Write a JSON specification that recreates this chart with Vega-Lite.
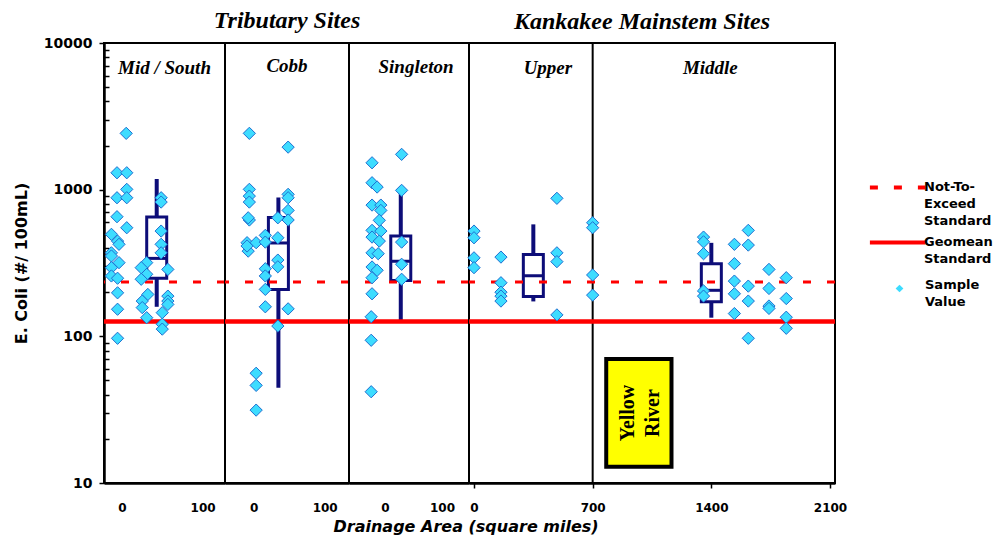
{
  "$schema": "https://vega.github.io/schema/vega-lite/v6.json",
  "background": "white",
  "padding": {"left": 12, "top": 8, "right": 5, "bottom": 5},
  "spacing": 0,
  "bounds": "flush",
  "datasets": {
    "points": [
      {"site": "Mid/South", "x": 5.4, "value": 2421},
      {"site": "Mid/South", "x": -6.0, "value": 1304},
      {"site": "Mid/South", "x": -6.0, "value": 881},
      {"site": "Mid/South", "x": -6.0, "value": 654},
      {"site": "Mid/South", "x": 6.1, "value": 1304},
      {"site": "Mid/South", "x": 6.1, "value": 1005},
      {"site": "Mid/South", "x": 6.1, "value": 881},
      {"site": "Mid/South", "x": 6.1, "value": 550},
      {"site": "Mid/South", "x": -12.9, "value": 496},
      {"site": "Mid/South", "x": -12.9, "value": 371},
      {"site": "Mid/South", "x": -12.9, "value": 353},
      {"site": "Mid/South", "x": -12.9, "value": 294},
      {"site": "Mid/South", "x": -12.9, "value": 258},
      {"site": "Mid/South", "x": -5.3, "value": 446},
      {"site": "Mid/South", "x": -5.3, "value": 249},
      {"site": "Mid/South", "x": -5.3, "value": 198},
      {"site": "Mid/South", "x": -5.3, "value": 153},
      {"site": "Mid/South", "x": -5.3, "value": 97},
      {"site": "Mid/South", "x": -3.5, "value": 424},
      {"site": "Mid/South", "x": -3.5, "value": 318},
      {"site": "Mid/South", "x": 30.8, "value": 318},
      {"site": "Mid/South", "x": 30.8, "value": 265},
      {"site": "Mid/South", "x": 30.8, "value": 134},
      {"site": "Mid/South", "x": 24.0, "value": 294},
      {"site": "Mid/South", "x": 24.0, "value": 245},
      {"site": "Mid/South", "x": 32.2, "value": 193},
      {"site": "Mid/South", "x": 25.3, "value": 174},
      {"site": "Mid/South", "x": 25.3, "value": 157},
      {"site": "Mid/South", "x": 48.7, "value": 881},
      {"site": "Mid/South", "x": 48.7, "value": 823},
      {"site": "Mid/South", "x": 48.7, "value": 522},
      {"site": "Mid/South", "x": 48.7, "value": 424},
      {"site": "Mid/South", "x": 48.7, "value": 371},
      {"site": "Mid/South", "x": 57.0, "value": 286},
      {"site": "Mid/South", "x": 57.0, "value": 188},
      {"site": "Mid/South", "x": 57.0, "value": 174},
      {"site": "Mid/South", "x": 57.0, "value": 165},
      {"site": "Mid/South", "x": 50.1, "value": 145},
      {"site": "Mid/South", "x": 50.1, "value": 121},
      {"site": "Mid/South", "x": 50.1, "value": 112},
      {"site": "Cobb", "x": -6.0, "value": 2421},
      {"site": "Cobb", "x": -6.0, "value": 1005},
      {"site": "Cobb", "x": -6.0, "value": 904},
      {"site": "Cobb", "x": -6.0, "value": 823},
      {"site": "Cobb", "x": -6.0, "value": 621},
      {"site": "Cobb", "x": -7.6, "value": 643},
      {"site": "Cobb", "x": -7.6, "value": 381},
      {"site": "Cobb", "x": -9.2, "value": 435},
      {"site": "Cobb", "x": -9.2, "value": 413},
      {"site": "Cobb", "x": 3.6, "value": 435},
      {"site": "Cobb", "x": 3.6, "value": 56},
      {"site": "Cobb", "x": 3.6, "value": 46.3},
      {"site": "Cobb", "x": 3.6, "value": 31.4},
      {"site": "Cobb", "x": 16.5, "value": 488},
      {"site": "Cobb", "x": 16.5, "value": 439},
      {"site": "Cobb", "x": 16.5, "value": 289},
      {"site": "Cobb", "x": 16.5, "value": 258},
      {"site": "Cobb", "x": 16.5, "value": 209},
      {"site": "Cobb", "x": 16.5, "value": 159},
      {"site": "Cobb", "x": 34.1, "value": 643},
      {"site": "Cobb", "x": 34.1, "value": 470},
      {"site": "Cobb", "x": 34.1, "value": 331},
      {"site": "Cobb", "x": 34.1, "value": 298},
      {"site": "Cobb", "x": 34.1, "value": 117.5},
      {"site": "Cobb", "x": 48.6, "value": 1950},
      {"site": "Cobb", "x": 48.6, "value": 929},
      {"site": "Cobb", "x": 48.6, "value": 881},
      {"site": "Cobb", "x": 48.6, "value": 722},
      {"site": "Cobb", "x": 48.6, "value": 621},
      {"site": "Cobb", "x": 48.6, "value": 154},
      {"site": "Singleton", "x": -22.5, "value": 1525},
      {"site": "Singleton", "x": -22.5, "value": 1115},
      {"site": "Singleton", "x": -22.5, "value": 785},
      {"site": "Singleton", "x": -22.5, "value": 528},
      {"site": "Singleton", "x": -22.5, "value": 475},
      {"site": "Singleton", "x": -22.5, "value": 371},
      {"site": "Singleton", "x": -22.5, "value": 297},
      {"site": "Singleton", "x": -22.5, "value": 251},
      {"site": "Singleton", "x": -22.5, "value": 195},
      {"site": "Singleton", "x": -13.6, "value": 1042},
      {"site": "Singleton", "x": -13.6, "value": 282},
      {"site": "Singleton", "x": -7.1, "value": 785},
      {"site": "Singleton", "x": -7.1, "value": 722},
      {"site": "Singleton", "x": -7.1, "value": 522},
      {"site": "Singleton", "x": -9.8, "value": 618},
      {"site": "Singleton", "x": -9.8, "value": 446},
      {"site": "Singleton", "x": -11.7, "value": 366},
      {"site": "Singleton", "x": -24.0, "value": 136},
      {"site": "Singleton", "x": -24.0, "value": 94},
      {"site": "Singleton", "x": -24.0, "value": 41.9},
      {"site": "Singleton", "x": 29.3, "value": 1741},
      {"site": "Singleton", "x": 29.3, "value": 989},
      {"site": "Singleton", "x": 29.3, "value": 439},
      {"site": "Singleton", "x": 29.3, "value": 310},
      {"site": "Singleton", "x": 29.3, "value": 245},
      {"site": "Upper", "x": 0, "value": 522},
      {"site": "Upper", "x": 0, "value": 470},
      {"site": "Upper", "x": 0, "value": 343},
      {"site": "Upper", "x": 0, "value": 294},
      {"site": "Upper", "x": 159, "value": 347},
      {"site": "Upper", "x": 159, "value": 232},
      {"site": "Upper", "x": 159, "value": 200},
      {"site": "Upper", "x": 159, "value": 188},
      {"site": "Upper", "x": 159, "value": 174},
      {"site": "Upper", "x": 489, "value": 873},
      {"site": "Upper", "x": 489, "value": 371},
      {"site": "Upper", "x": 489, "value": 323},
      {"site": "Upper", "x": 489, "value": 140},
      {"site": "Middle", "x": 700, "value": 595},
      {"site": "Middle", "x": 700, "value": 550},
      {"site": "Middle", "x": 700, "value": 262},
      {"site": "Middle", "x": 700, "value": 191},
      {"site": "Middle", "x": 1354, "value": 475},
      {"site": "Middle", "x": 1354, "value": 441},
      {"site": "Middle", "x": 1354, "value": 366},
      {"site": "Middle", "x": 1354, "value": 204},
      {"site": "Middle", "x": 1354, "value": 188},
      {"site": "Middle", "x": 1536, "value": 424},
      {"site": "Middle", "x": 1536, "value": 313},
      {"site": "Middle", "x": 1536, "value": 238},
      {"site": "Middle", "x": 1536, "value": 195},
      {"site": "Middle", "x": 1536, "value": 143},
      {"site": "Middle", "x": 1618, "value": 528},
      {"site": "Middle", "x": 1618, "value": 419},
      {"site": "Middle", "x": 1618, "value": 220},
      {"site": "Middle", "x": 1618, "value": 174},
      {"site": "Middle", "x": 1618, "value": 97},
      {"site": "Middle", "x": 1740, "value": 286},
      {"site": "Middle", "x": 1740, "value": 212},
      {"site": "Middle", "x": 1740, "value": 161},
      {"site": "Middle", "x": 1740, "value": 155},
      {"site": "Middle", "x": 1842, "value": 251},
      {"site": "Middle", "x": 1842, "value": 181},
      {"site": "Middle", "x": 1842, "value": 135},
      {"site": "Middle", "x": 1842, "value": 113.5}
    ],
    "boxes": [
      {"site": "Mid/South", "x": 43.2, "lo": 159, "q1": 249, "med": 340, "q3": 652, "hi": 1182},
      {"site": "Cobb", "x": 34.9, "lo": 44.6, "q1": 209, "med": 433, "q3": 645, "hi": 885},
      {"site": "Singleton", "x": 27.8, "lo": 128, "q1": 240, "med": 325, "q3": 483, "hi": 989},
      {"site": "Upper", "x": 350, "lo": 173, "q1": 187, "med": 259, "q3": 362, "hi": 580},
      {"site": "Middle", "x": 1400, "lo": 134, "q1": 172, "med": 206, "q3": 313, "hi": 434}
    ],
    "standards": [
      {"standard": "Not-To-Exceed Standard", "value": 235},
      {"standard": "Geomean Standard", "value": 126}
    ],
    "reaches": [
      {"reach": "Upper", "x": 436, "y": 6137},
      {"reach": "Middle", "x": 1394, "y": 6137}
    ],
    "dividers": [{"x": 700}],
    "notes": [
      {"label": "Yellow River", "x1": 780, "x2": 1165, "y1": 12.9, "y2": 70, "xc": 906, "yc": 30}
    ]
  },
  "hconcat": [
    {
      "width": 121, "height": 440,
      "title": {"text": "Mid / South", "offset": -42, "fontSize": 19},
      "layer": [
        {"data": {"name": "boxes"}, "transform": [{"filter": "datum.site == 'Mid/South'"}],
         "mark": {"type": "rule", "color": "#0d0d78", "strokeWidth": 4},
         "encoding": {
           "x": {"field": "x", "type": "quantitative", "scale": {"domain": [-15.9, 121.6], "nice": false, "zero": false},
             "axis": {"title": null, "values": [0, 100], "ticks": false, "labelOverlap": false}},
           "y": {"field": "lo", "type": "quantitative", "scale": {"type": "log", "domain": [10, 10000], "nice": false},
             "axis": {"title": "E. Coli (#/ 100mL)", "values": [10,20,30,40,50,60,70,80,90,100,200,300,400,500,600,700,800,900,1000,2000,3000,4000,5000,6000,7000,8000,9000,10000],
               "format": "d", "labelOverlap": false,
               "labelExpr": "datum.value == 10 || datum.value == 100 || datum.value == 1000 || datum.value == 10000 ? datum.label : ''",
               "tickSize": {"condition": {"test": "datum.value == 10 || datum.value == 100 || datum.value == 1000 || datum.value == 10000", "value": 5}, "value": -5}}},
           "y2": {"field": "hi"}
         }},
        {"data": {"name": "boxes"}, "transform": [{"filter": "datum.site == 'Mid/South'"}],
         "mark": {"type": "bar", "size": 20, "fill": "white", "stroke": "#0d0d78", "strokeWidth": 3},
         "encoding": {"x": {"field": "x", "type": "quantitative"}, "y": {"field": "q1", "type": "quantitative"}, "y2": {"field": "q3"}}},
        {"data": {"name": "boxes"}, "transform": [{"filter": "datum.site == 'Mid/South'"}],
         "mark": {"type": "tick", "orient": "horizontal", "size": 20, "thickness": 3, "color": "#0d0d78", "opacity": 1},
         "encoding": {"x": {"field": "x", "type": "quantitative"}, "y": {"field": "med", "type": "quantitative"}}},
        {"data": {"name": "standards"}, "transform": [{"filter": "datum.standard == 'Not-To-Exceed Standard'"}],
         "mark": {"type": "rule", "color": "#ff0000", "strokeWidth": 3},
         "encoding": {"y": {"field": "value", "type": "quantitative"},
           "strokeDash": {"field": "standard", "type": "nominal",
             "scale": {"domain": ["Not-To-Exceed Standard", "Geomean Standard"], "range": [[8, 16], [1, 0]]},
             "legend": {"orient": "none", "legendX": 787, "legendY": 141, "title": null,
               "symbolType": "M-6.9,-0.75L6.9,-0.75", "symbolSize": 64, "symbolStrokeColor": "#ff0000", "symbolStrokeWidth": 4,
               "labelBaseline": "alphabetic", "labelOffset": 20, "labelLimit": 200, "rowPadding": 6,
               "labelExpr": "datum.label == 'Not-To-Exceed Standard' ? ['Not-To-', 'Exceed', 'Standard'] : ['Geomean', 'Standard']"}}}},
        {"data": {"name": "standards"}, "transform": [{"filter": "datum.standard == 'Geomean Standard'"}],
         "mark": {"type": "rule", "color": "#ff0000", "strokeWidth": 4.5},
         "encoding": {"y": {"field": "value", "type": "quantitative"},
           "strokeDash": {"field": "standard", "type": "nominal"}}},
        {"data": {"name": "points"}, "transform": [{"filter": "datum.site == 'Mid/South'"}],
         "mark": {"type": "point", "filled": true, "fill": "#3ddcff", "stroke": "#1f6fd0", "strokeWidth": 1, "size": 150, "opacity": 1},
         "encoding": {"x": {"field": "x", "type": "quantitative"}, "y": {"field": "value", "type": "quantitative"},
           "shape": {"datum": "Sample Value", "type": "nominal", "scale": {"domain": ["Sample Value"], "range": ["diamond"]},
             "legend": {"orient": "none", "legendX": 789, "legendY": 239, "title": null, "symbolSize": 60,
               "symbolFillColor": "#3ddcff", "symbolStrokeColor": "#1f6fd0", "symbolStrokeWidth": 1,
               "labelBaseline": "alphabetic", "labelOffset": 19, "labelExpr": "['Sample', 'Value']"}}}}
      ]
    },
    {
      "width": 124, "height": 440,
      "title": {"text": "Tributary Sites", "subtitle": "Cobb", "offset": -33, "subtitlePadding": 24,
        "subtitleFont": "Liberation Serif", "subtitleFontStyle": "italic", "subtitleFontWeight": "bold", "subtitleFontSize": 19, "subtitleColor": "black"},
      "layer": [
        {"data": {"name": "boxes"}, "transform": [{"filter": "datum.site == 'Cobb'"}],
         "mark": {"type": "rule", "color": "#0d0d78", "strokeWidth": 4},
         "encoding": {
           "x": {"field": "x", "type": "quantitative", "scale": {"domain": [-33.2, 127.2], "nice": false, "zero": false},
             "axis": {"title": null, "values": [0, 100], "ticks": false, "labelOverlap": false}},
           "y": {"field": "lo", "type": "quantitative", "scale": {"type": "log", "domain": [10, 10000], "nice": false}, "axis": null},
           "y2": {"field": "hi"}
         }},
        {"data": {"name": "boxes"}, "transform": [{"filter": "datum.site == 'Cobb'"}],
         "mark": {"type": "bar", "size": 20, "fill": "white", "stroke": "#0d0d78", "strokeWidth": 3},
         "encoding": {"x": {"field": "x", "type": "quantitative"}, "y": {"field": "q1", "type": "quantitative"}, "y2": {"field": "q3"}}},
        {"data": {"name": "boxes"}, "transform": [{"filter": "datum.site == 'Cobb'"}],
         "mark": {"type": "tick", "orient": "horizontal", "size": 20, "thickness": 3, "color": "#0d0d78", "opacity": 1},
         "encoding": {"x": {"field": "x", "type": "quantitative"}, "y": {"field": "med", "type": "quantitative"}}},
        {"data": {"name": "standards"}, "transform": [{"filter": "datum.standard == 'Not-To-Exceed Standard'"}],
         "mark": {"type": "rule", "color": "#ff0000", "strokeWidth": 3},
         "encoding": {"y": {"field": "value", "type": "quantitative"}, "strokeDash": {"field": "standard", "type": "nominal"}}},
        {"data": {"name": "standards"}, "transform": [{"filter": "datum.standard == 'Geomean Standard'"}],
         "mark": {"type": "rule", "color": "#ff0000", "strokeWidth": 4.5},
         "encoding": {"y": {"field": "value", "type": "quantitative"}, "strokeDash": {"field": "standard", "type": "nominal"}}},
        {"data": {"name": "points"}, "transform": [{"filter": "datum.site == 'Cobb'"}],
         "mark": {"type": "point", "filled": true, "fill": "#3ddcff", "stroke": "#1f6fd0", "strokeWidth": 1, "size": 150, "opacity": 1},
         "encoding": {"x": {"field": "x", "type": "quantitative"}, "y": {"field": "value", "type": "quantitative"},
           "shape": {"datum": "Sample Value", "type": "nominal"}}}
      ]
    },
    {
      "width": 120, "height": 440,
      "title": {"text": "Singleton", "offset": -34, "fontSize": 19, "dx": 7},
      "layer": [
        {"data": {"name": "boxes"}, "transform": [{"filter": "datum.site == 'Singleton'"}],
         "mark": {"type": "rule", "color": "#0d0d78", "strokeWidth": 4},
         "encoding": {
           "x": {"field": "x", "type": "quantitative", "scale": {"domain": [-54.1, 138.5], "nice": false, "zero": false},
             "axis": {"title": null, "values": [0, 100], "ticks": false, "labelOverlap": false}},
           "y": {"field": "lo", "type": "quantitative", "scale": {"type": "log", "domain": [10, 10000], "nice": false}, "axis": null},
           "y2": {"field": "hi"}
         }},
        {"data": {"name": "boxes"}, "transform": [{"filter": "datum.site == 'Singleton'"}],
         "mark": {"type": "bar", "size": 20, "fill": "white", "stroke": "#0d0d78", "strokeWidth": 3},
         "encoding": {"x": {"field": "x", "type": "quantitative"}, "y": {"field": "q1", "type": "quantitative"}, "y2": {"field": "q3"}}},
        {"data": {"name": "boxes"}, "transform": [{"filter": "datum.site == 'Singleton'"}],
         "mark": {"type": "tick", "orient": "horizontal", "size": 20, "thickness": 3, "color": "#0d0d78", "opacity": 1},
         "encoding": {"x": {"field": "x", "type": "quantitative"}, "y": {"field": "med", "type": "quantitative"}}},
        {"data": {"name": "standards"}, "transform": [{"filter": "datum.standard == 'Not-To-Exceed Standard'"}],
         "mark": {"type": "rule", "color": "#ff0000", "strokeWidth": 3},
         "encoding": {"y": {"field": "value", "type": "quantitative"}, "strokeDash": {"field": "standard", "type": "nominal"}}},
        {"data": {"name": "standards"}, "transform": [{"filter": "datum.standard == 'Geomean Standard'"}],
         "mark": {"type": "rule", "color": "#ff0000", "strokeWidth": 4.5},
         "encoding": {"y": {"field": "value", "type": "quantitative"}, "strokeDash": {"field": "standard", "type": "nominal"}}},
        {"data": {"name": "points"}, "transform": [{"filter": "datum.site == 'Singleton'"}],
         "mark": {"type": "point", "filled": true, "fill": "#3ddcff", "stroke": "#1f6fd0", "strokeWidth": 1, "size": 150, "opacity": 1},
         "encoding": {"x": {"field": "x", "type": "quantitative"}, "y": {"field": "value", "type": "quantitative"},
           "shape": {"datum": "Sample Value", "type": "nominal"}}}
      ]
    },
    {
      "width": 366, "height": 440,
      "title": {"text": "Kankakee Mainstem Sites", "offset": 8, "dx": -10},
      "layer": [
        {"data": {"name": "notes"},
         "mark": {"type": "rect", "fill": "#ffff00", "stroke": "black", "strokeWidth": 4},
         "encoding": {
           "x": {"field": "x1", "type": "quantitative", "scale": {"domain": [0, 2100], "nice": false, "zero": false},
             "axis": {"title": "Drainage Area  (square miles)", "titleX": -136, "titleY": 43, "titleAlign": "left", "titleBaseline": "middle",
               "titleFont": "DejaVu Sans", "titleFontSize": 16, "labelPadding": 14, "labelOverlap": false,
               "values": [0, 700, 1400, 2100], "format": "d", "tickSize": 5}},
           "x2": {"field": "x2"},
           "y": {"field": "y1", "type": "quantitative", "scale": {"type": "log", "domain": [10, 10000], "nice": false}, "axis": null},
           "y2": {"field": "y2"}
         }},
        {"data": {"name": "notes"},
         "mark": {"type": "text", "angle": 270, "lineBreak": " ", "lineHeight": 25, "font": "Liberation Serif", "fontWeight": "bold", "fontSize": 20, "color": "black", "align": "center", "baseline": "middle"},
         "encoding": {"x": {"field": "xc", "type": "quantitative"}, "y": {"field": "yc", "type": "quantitative"}, "text": {"field": "label"}}},
        {"data": {"name": "dividers"},
         "mark": {"type": "rule", "color": "black", "strokeWidth": 2},
         "encoding": {"x": {"field": "x", "type": "quantitative"}}},
        {"data": {"name": "reaches"},
         "mark": {"type": "text", "font": "Liberation Serif", "fontStyle": "italic", "fontWeight": "bold", "fontSize": 19, "color": "black", "align": "center", "baseline": "alphabetic"},
         "encoding": {"x": {"field": "x", "type": "quantitative"}, "y": {"field": "y", "type": "quantitative"}, "text": {"field": "reach"}}},
        {"data": {"name": "boxes"}, "transform": [{"filter": "datum.site == 'Upper' || datum.site == 'Middle'"}],
         "mark": {"type": "rule", "color": "#0d0d78", "strokeWidth": 4},
         "encoding": {"x": {"field": "x", "type": "quantitative"}, "y": {"field": "lo", "type": "quantitative"}, "y2": {"field": "hi"}}},
        {"data": {"name": "boxes"}, "transform": [{"filter": "datum.site == 'Upper' || datum.site == 'Middle'"}],
         "mark": {"type": "bar", "size": 20, "fill": "white", "stroke": "#0d0d78", "strokeWidth": 3},
         "encoding": {"x": {"field": "x", "type": "quantitative"}, "y": {"field": "q1", "type": "quantitative"}, "y2": {"field": "q3"}}},
        {"data": {"name": "boxes"}, "transform": [{"filter": "datum.site == 'Upper' || datum.site == 'Middle'"}],
         "mark": {"type": "tick", "orient": "horizontal", "size": 20, "thickness": 3, "color": "#0d0d78", "opacity": 1},
         "encoding": {"x": {"field": "x", "type": "quantitative"}, "y": {"field": "med", "type": "quantitative"}}},
        {"data": {"name": "standards"}, "transform": [{"filter": "datum.standard == 'Not-To-Exceed Standard'"}],
         "mark": {"type": "rule", "color": "#ff0000", "strokeWidth": 3},
         "encoding": {"y": {"field": "value", "type": "quantitative"}, "strokeDash": {"field": "standard", "type": "nominal"}}},
        {"data": {"name": "standards"}, "transform": [{"filter": "datum.standard == 'Geomean Standard'"}],
         "mark": {"type": "rule", "color": "#ff0000", "strokeWidth": 4.5},
         "encoding": {"y": {"field": "value", "type": "quantitative"}, "strokeDash": {"field": "standard", "type": "nominal"}}},
        {"data": {"name": "points"}, "transform": [{"filter": "datum.site == 'Upper' || datum.site == 'Middle'"}],
         "mark": {"type": "point", "filled": true, "fill": "#3ddcff", "stroke": "#1f6fd0", "strokeWidth": 1, "size": 150, "opacity": 1},
         "encoding": {"x": {"field": "x", "type": "quantitative"}, "y": {"field": "value", "type": "quantitative"},
           "shape": {"datum": "Sample Value", "type": "nominal"}}}
      ]
    }
  ],
  "config": {
    "view": {"stroke": "black", "strokeWidth": 2},
    "title": {"font": "Liberation Serif", "fontStyle": "italic", "fontWeight": "bold", "fontSize": 24, "color": "black"},
    "axis": {"grid": false, "domainColor": "black", "domainWidth": 2.5, "tickColor": "black", "tickWidth": 1.5,
      "labelColor": "black", "labelFont": "DejaVu Sans", "labelFontWeight": "bold", "labelFlush": false,
      "titleColor": "black", "titleFont": "DejaVu Sans", "titleFontWeight": "bold"},
    "axisX": {"labelFontSize": 12, "labelPadding": 19, "titleFontSize": 16, "titleFontStyle": "italic"},
    "axisY": {"labelFontSize": 14, "labelPadding": 7, "titleFontSize": 16, "titlePadding": 14},
    "legend": {"labelFont": "DejaVu Sans", "labelFontWeight": "bold", "labelFontSize": 13, "labelColor": "black"},
    "style": {"guide-label": {"lineHeight": 17}}
  }
}
